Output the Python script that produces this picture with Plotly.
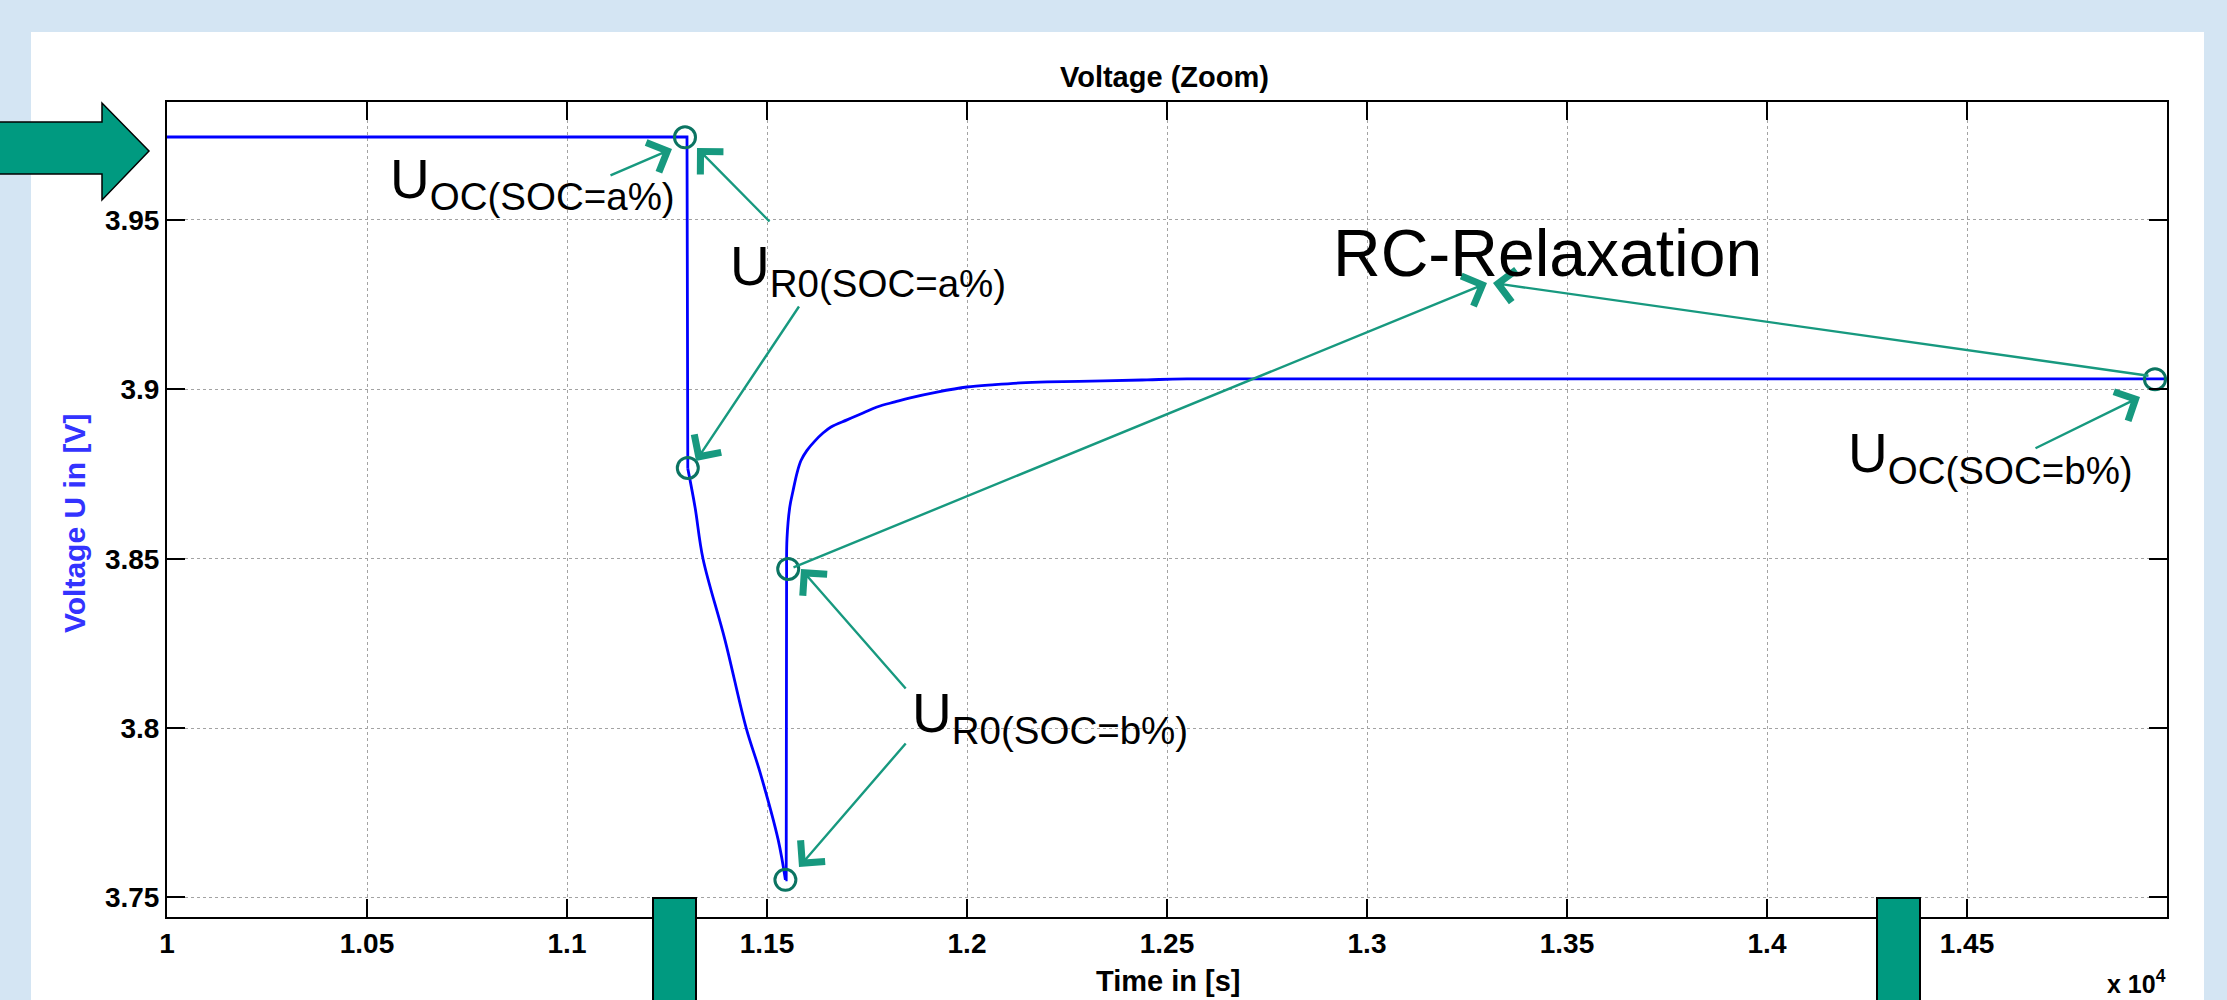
import plotly.graph_objects as go

# ---------------- data ----------------
time_s = [10000, 11300, 11302, 11320, 11340, 11395, 11448, 11483, 11528, 11546,
          11548, 11549, 11550, 11557, 11565, 11575, 11585, 11600, 11620, 11640,
          11660, 11700, 11740, 11775, 11820, 11858, 11925, 12000, 12070, 12133,
          12200, 12340, 12450, 12550, 15000]
voltage_v = [3.9745, 3.9745, 3.8766, 3.8653, 3.8500, 3.8260, 3.8000, 3.7868, 3.7670, 3.7552,
             3.7552, 3.8470, 3.8560, 3.8653, 3.8700, 3.8753, 3.8790, 3.8820, 3.8848, 3.8871,
             3.8889, 3.8910, 3.8930, 3.8948, 3.8963, 3.8975, 3.8992, 3.9007, 3.9014, 3.9019,
             3.9022, 3.9025, 3.9028, 3.9031, 3.9031]

marker_t = [11295, 11302, 11553, 11546, 14970]
marker_v = [3.9744, 3.8768, 3.8470, 3.7552, 3.9030]

x_tickvals = [10000, 10500, 11000, 11500, 12000, 12500, 13000, 13500, 14000, 14500]
x_ticktext = ["1", "1.05", "1.1", "1.15", "1.2", "1.25", "1.3", "1.35", "1.4", "1.45"]
y_tickvals = [3.75, 3.80, 3.85, 3.90, 3.95]
y_ticktext = ["3.75", "3.8", "3.85", "3.9", "3.95"]

# segments of the curve (index ranges): step/flat, discharge, jump, relaxation
segments = [(0, 2, "linear"), (2, 9, "spline"), (9, 11, "linear"), (11, len(time_s) - 1, "spline")]

# ---------------- layout geometry (pixels) ----------------
W, H = 2227, 1000
L, R, T, B = 167, 2167, 102, 917
X0, X1 = 10000, 15000
Y0, Y1 = 3.74424, 3.98483

def dx(px):
    return X0 + (px - L) / (R - L) * (X1 - X0)

def dy(py):
    return Y1 - (py - T) / (B - T) * (Y1 - Y0)

def ppx(px):
    return (px - L) / (R - L)

def ppy(py):
    return (B - py) / (B - T)

BLUE_BG = "#D4E5F3"
TEAL = "#009A80"
ARROW = "#17997F"
MARK = "#0B7462"
FONT = "Liberation Sans, Arial, sans-serif"

fig = go.Figure()
for i0, i1, shp in segments:
    fig.add_trace(go.Scatter(x=time_s[i0:i1 + 1], y=voltage_v[i0:i1 + 1], mode="lines",
                             line=dict(color="#0000FF", width=2.8, shape=shp, smoothing=1.0),
                             showlegend=False))
fig.add_trace(go.Scatter(x=marker_t, y=marker_v, mode="markers",
                         marker=dict(symbol="circle-open", size=21, color=MARK,
                                     line=dict(width=3, color=MARK)),
                         showlegend=False))

shapes = []
# white slide panel
shapes.append(dict(type="rect", xref="paper", yref="paper", layer="below",
                   x0=ppx(31), x1=ppx(2204), y0=ppy(1050), y1=ppy(32),
                   fillcolor="white", line=dict(width=0)))
# big arrow on the left
pts = [(-5, 122), (102, 122), (102, 103), (149, 151), (102, 200), (102, 174), (-5, 174)]
path = "M " + " L ".join(f"{ppx(a):.5f},{ppy(b):.5f}" for a, b in pts) + " Z"
shapes.append(dict(type="path", xref="paper", yref="paper", path=path,
                   fillcolor=TEAL, line=dict(color="black", width=1.5), layer="above"))
# green markers at the bottom
for xa, xb in [(653, 696), (1877, 1920)]:
    shapes.append(dict(type="rect", xref="paper", yref="paper", layer="above",
                       x0=ppx(xa), x1=ppx(xb), y0=ppy(1010), y1=ppy(898),
                       fillcolor=TEAL, line=dict(color="black", width=2)))

ann = []
# arrows: (tip, tail) in pixels
arrows = [((672, 149), (609, 176)),
          ((697, 148), (771, 223)),
          ((696, 461), (800, 305)),
          ((801, 569), (907, 690)),
          ((799, 867), (907, 742)),
          ((1487, 283), (792, 568)),
          ((1493, 283), (2150, 376)),
          ((2140, 397), (2034, 449))]
for (tx, ty), (sx, sy) in arrows:
    ann.append(dict(x=dx(tx), y=dy(ty), ax=dx(sx), ay=dy(sy), xref="x", yref="y",
                    axref="x", ayref="y", text="", showarrow=True, arrowhead=4,
                    arrowsize=2.6, arrowwidth=2.4, arrowcolor=ARROW))

labels = [("U<sub>OC(SOC=a%)</sub>", 388, 146, 55),
          ("U<sub>R0(SOC=a%)</sub>", 728, 233, 55),
          ("U<sub>R0(SOC=b%)</sub>", 910, 680, 55),
          ("RC-Relaxation", 1331, 214, 66),
          ("U<sub>OC(SOC=b%)</sub>", 1846, 420, 55)]
for txt, lx, ty, fs in labels:
    ann.append(dict(x=ppx(lx), y=ppy(ty), xref="paper", yref="paper", text=txt,
                    showarrow=False, xanchor="left", yanchor="top",
                    font=dict(family=FONT, size=fs, color="black")))

# titles
ann.append(dict(x=ppx(1164), y=ppy(77), xref="paper", yref="paper", text="Voltage (Zoom)",
                showarrow=False, xanchor="center", yanchor="middle",
                font=dict(family=FONT, size=29, color="black", weight="bold")))
ann.append(dict(x=ppx(1168), y=ppy(981), xref="paper", yref="paper", text="Time in [s]",
                showarrow=False, xanchor="center", yanchor="middle",
                font=dict(family=FONT, size=29, color="black", weight="bold")))
ann.append(dict(x=ppx(74), y=ppy(524), xref="paper", yref="paper", text="Voltage U in [V]",
                showarrow=False, xanchor="center", yanchor="middle", textangle=-90,
                font=dict(family=FONT, size=30, color="#3333FF", weight="bold")))
ann.append(dict(x=ppx(2168), y=ppy(1000), xref="paper", yref="paper", text="x 10<sup>4</sup>",
                showarrow=False, xanchor="right", yanchor="bottom",
                font=dict(family=FONT, size=25, color="black", weight="bold")))

axis_common = dict(showline=True, linecolor="black", linewidth=2, mirror="ticks",
                   ticks="inside", ticklen=18, tickwidth=2, tickcolor="black",
                   showgrid=True, gridcolor="#a3a3a3", griddash="dot", gridwidth=1.2,
                   zeroline=False,
                   tickfont=dict(family=FONT, size=28, color="black", weight="bold"))

fig.update_layout(
    width=W, height=H, autosize=False,
    margin=dict(l=L, r=W - R, t=T, b=H - B, pad=0),
    paper_bgcolor=BLUE_BG, plot_bgcolor="white",
    xaxis=dict(range=[X0, X1], tickmode="array", tickvals=x_tickvals, ticktext=x_ticktext,
               **axis_common),
    yaxis=dict(range=[Y0, Y1], tickmode="array", tickvals=y_tickvals, ticktext=y_ticktext,
               **axis_common),
    shapes=shapes, annotations=ann, showlegend=False,
)

fig.write_html("out.html")
